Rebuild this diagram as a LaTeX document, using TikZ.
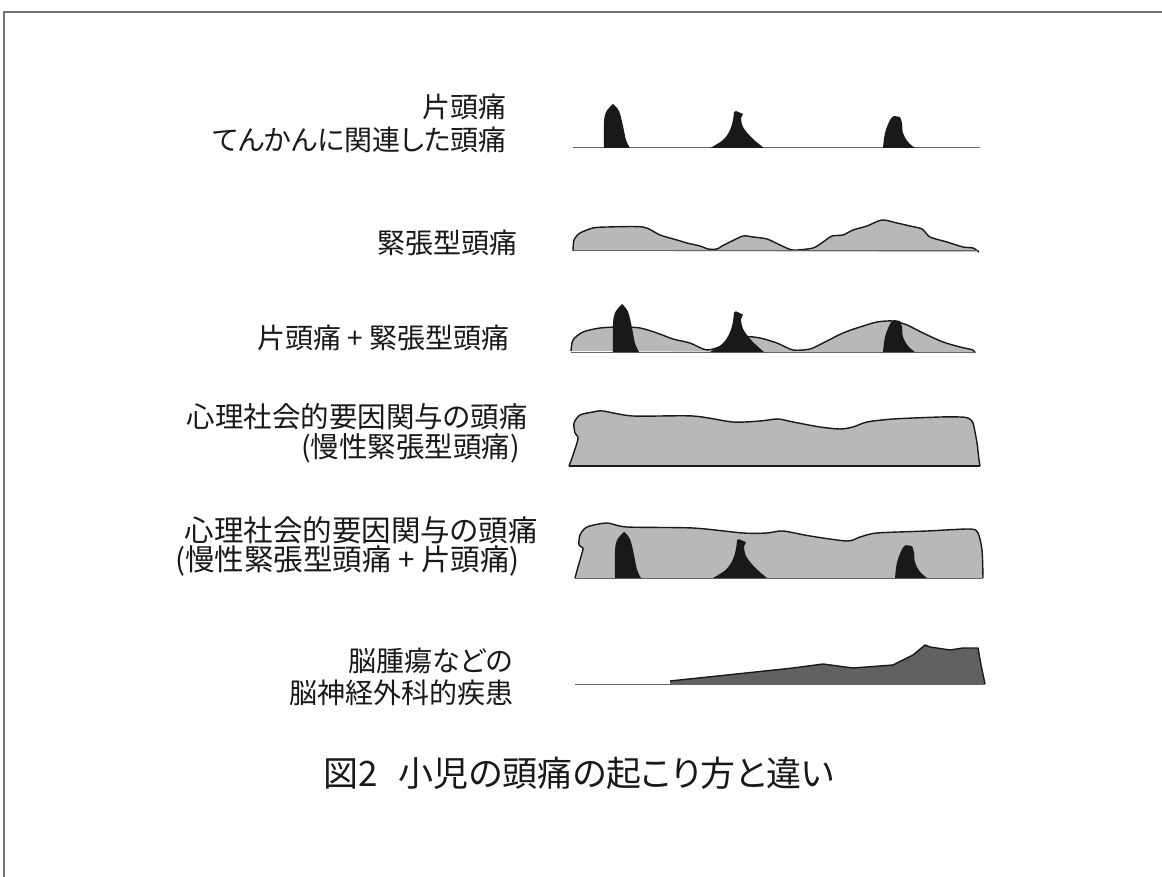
\documentclass[tikz,border=0pt]{standalone}
\usepackage{fontspec}
\newfontfamily\jp{Noto Sans CJK JP}[RawFeature=+palt]
\newcommand\spkA[3]{\fill[spk,shift={(#1,#2)},yscale=#3] plot[smooth,tension=0.6] coordinates{(0,0) (0,-25) (2,-36) (9,-44)} -- plot[smooth,tension=0.6] coordinates{(9,-44) (15,-37) (19,-22) (22,-8) (26,0)} -- cycle;}
\newcommand\spkB[3]{\fill[spk,shift={(#1,#2)},yscale=#3] plot[smooth,tension=0.6] coordinates{(0,0) (13,-8) (20,-18) (23,-28) (24,-36)} -- (26,-37) -- (33,-34) -- (31,-30) -- plot[smooth,tension=0.6] coordinates{(31,-30) (33,-21) (42,-10) (54,0)} -- cycle;}
\newcommand\spkC[3]{\fill[spk,shift={(#1,#2)},yscale=#3] plot[smooth,tension=0.6] coordinates{(0,0) (2,-15) (7,-28) (11,-32)} -- (17,-31) -- plot[smooth,tension=0.6] coordinates{(17,-31) (19,-25) (20,-15) (25,-6) (32,0)} -- cycle;}
\newcommand\hill[1]{\fill[gfill] plot[smooth,tension=0.45] coordinates{#1} -- cycle; \draw[outl] plot[smooth,tension=0.45] coordinates{#1};}
\begin{document}
\begin{tikzpicture}[x=1pt,y=-1pt,
  lbl/.style={font=\jp\fontsize{28}{32}\selectfont, inner sep=0pt, anchor=east, text=black!90},
  lblb/.style={lbl, font=\jp\fontsize{29.5}{34}\selectfont},
  base/.style={draw=black!60, line width=1pt},
  gfill/.style={fill=black!28},
  outl/.style={draw=black!90, line width=1.4pt, line join=round},
  spk/.style={fill=black!90},
  dk/.style={fill=black!62},
  frame/.style={draw=black!55, line width=1.2pt}]
\useasboundingbox (0,0) rectangle (1162,877);
\fill[white] (0,0) rectangle (1162,877);
\draw[frame] (4,877) -- (4,12) -- (1162,12);

% labels
\node[lbl] (r1a) at (507,107) {片頭痛};
\node[lbl] (r1b) at (507,140) {てんかんに関連した頭痛};
\node[lbl] (r2) at (518,243) {緊張型頭痛};
\node[lbl] (r3) at (510,338) {片頭痛 + 緊張型頭痛};
\node[lbl, font=\jp\fontsize{28.5}{32}\selectfont] (r4a) at (528,417) {心理社会的要因関与の頭痛};
\node[lbl, font=\jp\fontsize{28.5}{32}\selectfont] (r4b) at (520,448) {(慢性緊張型頭痛)};
\node[lblb] (r5a) at (538,530) {心理社会的要因関与の頭痛};
\node[lblb] (r5b) at (520,561) {(慢性緊張型頭痛 + 片頭痛)};
\node[lbl] (r6a) at (513,661) {脳腫瘍などの};
\node[lbl] (r6b) at (514,693) {脳神経外科的疾患};
\node[font=\jp\fontsize{35}{40}\selectfont, inner sep=0pt, text=black!90] (title) at (579,773) {図2\hspace{0.6em}小児の頭痛の起こり方と違い};

% row 2
\hill{(573,251) (574,240) (580,233) (593,228) (607,227) (643,227) (660,235) (677,240) (687,243) (700,246) (708,249) (717,249) (722,246) (730,242) (743,236) (753,237) (767,239) (780,245) (793,250) (813,248) (823,242) (832,236) (843,235) (853,230) (867,226) (882,220) (897,223) (910,226) (922,229) (930,237) (947,242) (963,247) (973,248) (979,252)}
% row 3
\hill{(571,351) (573,340) (583,332) (600,328) (620,327) (640,328) (657,333) (673,339) (690,343) (707,350) (725,345) (745,337) (760,338) (777,343) (793,350) (810,349) (823,343) (843,333) (860,327) (877,322) (893,321) (907,325) (923,333) (943,342) (960,347) (973,350) (975,353)}
% row 4
\hill{(569,466) (572,458) (577,443) (578,437) (575,433) (574,423) (580,415) (593,412) (603,411) (633,416) (693,416) (733,422) (760,421) (778,419) (793,422) (820,427) (840,429) (853,427) (867,422) (893,419) (940,417) (960,417) (968,418) (973,423) (977,443) (979,460) (980,466)}
% row 5
\hill{(575,578) (578,567) (582,553) (583,548) (579,545) (580,535) (587,527) (607,523) (627,527) (693,528) (743,533) (767,533) (783,531) (810,536) (847,541) (860,537) (877,533) (927,531) (970,529) (978,533) (982,550) (983,578)}
% row 6
\fill[dk] (670,684) -- (670,681) -- (727,675) -- (793,668) -- (823,664) -- (853,668) -- (893,665) -- (913,655) -- (925,645) -- (930,647) -- (950,650) -- (963,648) -- (978,648) -- (981,665) -- (985,684) -- cycle;
\draw[outl] (670,681) -- (727,675) -- (793,668) -- (823,664) -- (853,668) -- (893,665) -- (913,655) -- (925,645) -- (930,647) -- (950,650) -- (963,648) -- (978,648) -- (981,665) -- (985,684);

% baselines
\draw[base] (573,148) -- (980,148);
\draw[base] (573,251) -- (979,251);
\draw[base] (571,352) -- (975,352);
\draw[outl] (569,466) -- (980,466);
\draw[base] (575,578) -- (983,578);
\draw[base] (575,684) -- (985,684);

% spikes
\spkA{604}{148}{1}
\spkB{710}{148}{1}
\spkC{883}{148}{1}
\spkA{613}{352}{1.09}
\spkB{710}{352}{1.1}
\spkC{883}{352}{1}
\spkA{615}{578}{1.05}
\spkB{713}{578}{1.05}
\spkC{895}{578}{1.03}
\end{tikzpicture}
\end{document}
